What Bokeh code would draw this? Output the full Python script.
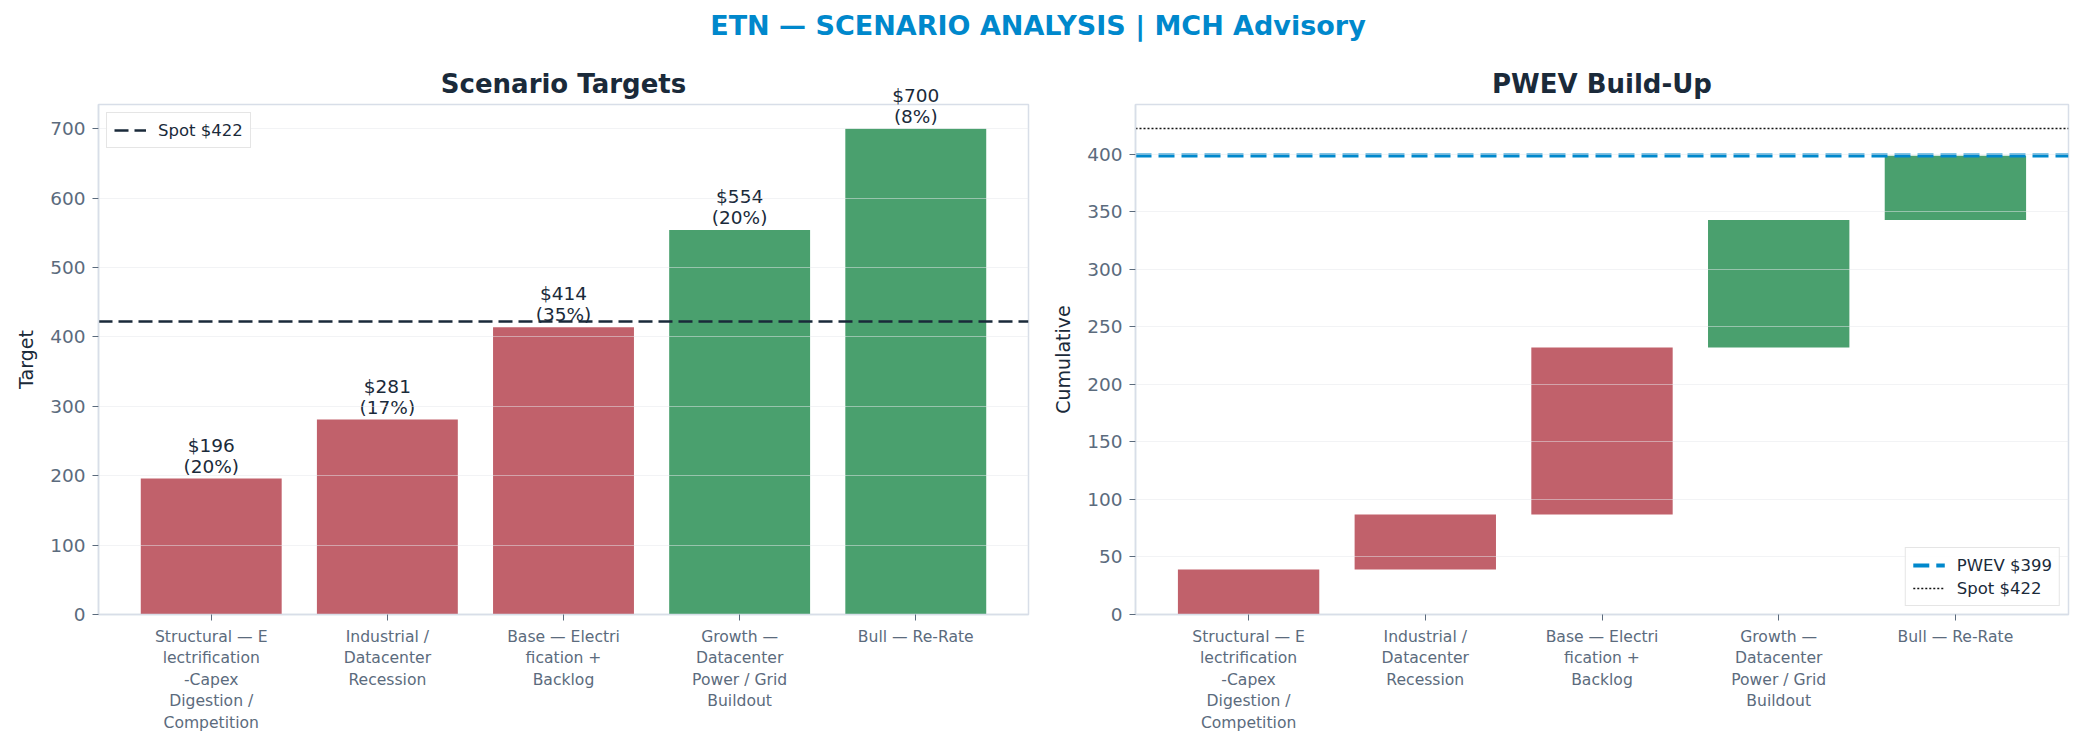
from bokeh.plotting import figure
from bokeh.layouts import column, row
from bokeh.models import Range1d, FixedTicker, ColumnDataSource, Legend
from bokeh.embed import file_html
from bokeh.resources import INLINE
from bokeh.core.properties import value

# ---------------- data ----------------
scenarios = [
    "Structural — E\nlectrification\n-Capex\nDigestion /\nCompetition",
    "Industrial /\nDatacenter\nRecession",
    "Base — Electri\nfication +\nBacklog",
    "Growth —\nDatacenter\nPower / Grid\nBuildout",
    "Bull — Re-Rate",
]
targets = [196, 281, 414, 554, 700]
probs = [0.20, 0.17, 0.35, 0.20, 0.08]
spot = 422
left_yticks = [0, 100, 200, 300, 400, 500, 600, 700]
right_yticks = [0, 50, 100, 150, 200, 250, 300, 350, 400]

# ---------------- derived ----------------
RED = "#c1616b"
GREEN = "#4aa06e"
DARK = "#1a2a3a"
SLATE = "#5b6b7d"
BORDER = "#d8dee8"
BLUE = "#0088cc"
FONT = "DejaVu Sans"

xs = list(range(len(targets)))
colors = [RED if t < spot else GREEN for t in targets]
price_txt = ["${}".format(t) for t in targets]
prob_txt = ["({:.0f}%)".format(p * 100) for p in probs]
contrib = [t * p for t, p in zip(targets, probs)]
tops = []
acc = 0.0
for c in contrib:
    acc += c
    tops.append(acc)
bottoms = [0.0] + tops[:-1]
pwev = tops[-1]


def style(p, yticks, ylabel):
    p.title.text_font = FONT
    p.title.text_font_size = "26px"
    p.title.text_font_style = "bold"
    p.title.text_color = DARK
    p.title.align = "center"
    p.title.standoff = 11
    p.outline_line_color = BORDER
    p.outline_line_width = 1.5
    p.xgrid.grid_line_color = None
    p.ygrid.grid_line_color = "#e5e7eb"
    p.ygrid.grid_line_alpha = 0.5
    p.ygrid.grid_line_width = 1
    p.ygrid.level = "overlay"
    p.yaxis.ticker = FixedTicker(ticks=yticks)
    p.xaxis.ticker = FixedTicker(ticks=xs)
    p.xaxis.major_label_overrides = {i: s for i, s in zip(xs, scenarios)}
    for ax in (p.xaxis[0], p.yaxis[0]):
        ax.axis_line_color = BORDER
        ax.axis_line_width = 1.5
        ax.major_tick_line_color = SLATE
        ax.major_tick_out = 6
        ax.major_tick_in = 0
        ax.minor_tick_line_color = None
        ax.major_label_text_font = FONT
        ax.major_label_text_color = SLATE
        ax.major_label_standoff = 7
    p.yaxis.major_label_text_font_size = "18.5px"
    p.xaxis.major_label_text_font_size = "15.6px"
    p.xaxis.major_label_text_line_height = 1.2
    p.yaxis.axis_label = ylabel
    p.yaxis.axis_label_text_font = FONT
    p.yaxis.axis_label_text_font_size = "19px"
    p.yaxis.axis_label_text_font_style = "normal"
    p.yaxis.axis_label_text_color = DARK
    p.yaxis.axis_label_standoff = 10
    p.background_fill_color = "white"
    p.border_fill_color = "white"


def style_legend(lg):
    lg.label_text_font = FONT
    lg.label_text_font_size = "16.5px"
    lg.label_text_color = DARK
    lg.border_line_color = "#cccccc"
    lg.border_line_width = 1.5
    lg.background_fill_alpha = 0.9
    lg.glyph_width = 32
    lg.glyph_height = 20
    lg.label_standoff = 12
    lg.padding = 7
    lg.spacing = 3
    lg.margin = 8


# ---------------- header ----------------
header = figure(width=2075, height=50, x_range=Range1d(0, 1), y_range=Range1d(0, 50),
                toolbar_location=None, output_backend="svg", min_border=0)
header.axis.visible = False
header.grid.visible = False
header.outline_line_color = None
header.text(x=[0.5], y=[25], text=["ETN — SCENARIO ANALYSIS | MCH Advisory"],
            text_font=value(FONT), text_font_size="27px", text_font_style="bold",
            text_color=BLUE, text_align="center", text_baseline="middle")

# ---------------- left ----------------
src1 = ColumnDataSource(dict(x=xs, top=targets, color=colors, price=price_txt, prob=prob_txt))
p1 = figure(width=1040, height=684, title="Scenario Targets",
            x_range=Range1d(-0.64, 4.64), y_range=Range1d(0, max(targets) * 1.05),
            toolbar_location=None, output_backend="svg",
            min_border_left=98, min_border_right=12, min_border_top=54, min_border_bottom=116)
style(p1, left_yticks, "Target")
p1.vbar(x="x", top="top", width=0.8, color="color", line_color=None, source=src1)
for col, off in (("price", -23), ("prob", -2)):
    p1.text(x="x", y="top", text=col, source=src1, text_align="center", text_baseline="bottom",
            text_font=value(FONT), text_font_size="18.5px", text_color=DARK,
            y_offset=off, level="overlay")
spot1 = p1.hspan(y=[spot], line_color=DARK, line_width=2.5, line_dash="14 6")
lg1 = Legend(items=[("Spot ${}".format(spot), [spot1])], location="top_left")
style_legend(lg1)
p1.add_layout(lg1, "center")

# ---------------- right ----------------
src2 = ColumnDataSource(dict(x=xs, top=tops, bottom=bottoms, color=colors))
p2 = figure(width=1035, height=684, title="PWEV Build-Up",
            x_range=Range1d(-0.64, 4.64), y_range=Range1d(0, max(pwev, spot) * 1.05),
            toolbar_location=None, output_backend="svg",
            min_border_left=95, min_border_right=7, min_border_top=54, min_border_bottom=116)
style(p2, right_yticks, "Cumulative")
p2.vbar(x="x", top="top", bottom="bottom", width=0.8, color="color", line_color=None, source=src2)
pw = p2.hspan(y=[pwev], line_color=BLUE, line_width=4, line_dash="16 7")
sp2 = p2.hspan(y=[spot], line_color="#111111", line_width=1.5, line_dash="2 2")
lg2 = Legend(items=[("PWEV ${:.0f}".format(pwev), [pw]), ("Spot ${}".format(spot), [sp2])],
             location="bottom_right")
style_legend(lg2)
p2.add_layout(lg2, "center")

layout = column(header, row(p1, p2, spacing=0), spacing=0)
open("out.html", "w").write(file_html(layout, INLINE))
